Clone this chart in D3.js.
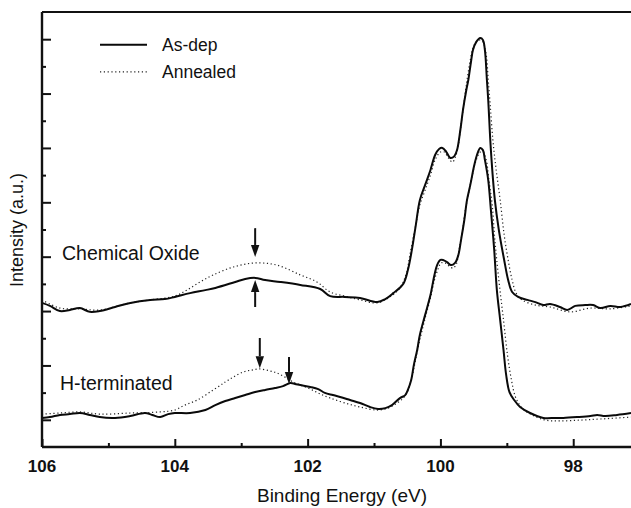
<!DOCTYPE html>
<html>
<head>
<meta charset="utf-8">
<script src="https://cdn.jsdelivr.net/npm/d3@7"></script>
<style>
  html, body { margin: 0; padding: 0; background: #fff; }
  svg { display: block; font-family: "Liberation Sans", Arial, Helvetica, sans-serif; }
</style>
</head>
<body>
<svg id="chart" width="631" height="508"></svg>
<script>
// ---- Data (binding energy eV, intensity a.u.) ----
const xMajorTicks = [106, 104, 102, 100, 98];
const xMinorTicks = [105, 103, 101, 99];
const yMajorTicks = [1, 3, 5, 7, 9, 11, 13, 15];
const yMinorTicks = [2, 4, 6, 8, 10, 12, 14];

const legendLabels = ["As-dep", "Annealed"];
const curveLabels = ["Chemical Oxide", "H-terminated"];

const oxideAsDep = [
  [106.00,5.30],[105.88,5.19],[105.73,5.00],[105.58,5.04],[105.43,5.11],[105.28,4.97],[105.13,5.00],
  [104.90,5.15],[104.67,5.30],[104.37,5.41],[104.15,5.44],[104.00,5.52],[103.77,5.66],[103.54,5.77],
  [103.39,5.85],[103.09,6.07],[102.94,6.18],[102.79,6.22],[102.64,6.14],[102.41,6.07],[102.11,5.96],
  [101.81,5.81],[101.66,5.55],[101.44,5.52],[101.21,5.48],[100.95,5.33],[100.83,5.44],[100.71,5.66],
  [100.56,6.00],[100.49,6.51],[100.43,7.25],[100.37,8.17],[100.31,9.08],[100.23,9.64],[100.15,10.19],
  [100.08,10.74],[100.02,10.96],[99.97,11.00],[99.91,10.85],[99.85,10.63],[99.79,10.70],[99.75,10.92],
  [99.70,11.66],[99.66,12.40],[99.61,13.13],[99.58,13.50],[99.54,14.16],[99.51,14.60],[99.46,14.90],
  [99.40,15.04],[99.36,14.97],[99.33,14.60],[99.30,13.50],[99.28,12.76],[99.24,10.92],[99.18,9.08],
  [99.12,7.98],[99.04,6.88],[98.98,6.14],[98.92,5.70],[98.83,5.52],[98.69,5.41],[98.57,5.33],
  [98.45,5.22],[98.35,5.26],[98.20,5.15],[98.09,5.04],[97.97,5.19],[97.82,5.22],[97.70,5.22],
  [97.59,5.11],[97.44,5.19],[97.29,5.15],[97.13,5.26]
];

const oxideAnnealed = [
  [106.00,5.41],[105.73,5.11],[105.43,5.08],[105.13,5.04],[104.67,5.30],[104.37,5.41],[104.00,5.55],
  [103.82,5.77],[103.62,6.07],[103.42,6.33],[103.12,6.62],[102.79,6.77],[102.46,6.69],[102.11,6.33],
  [101.86,6.07],[101.66,5.70],[101.44,5.55],[101.21,5.41],[100.95,5.30],[100.76,5.52],[100.61,5.85],
  [100.52,6.33],[100.46,7.06],[100.38,8.06],[100.31,8.90],[100.23,9.45],[100.15,10.00],[100.08,10.56],
  [100.00,10.85],[99.94,10.85],[99.88,10.63],[99.82,10.48],[99.78,10.63],[99.73,11.11],[99.69,11.84],
  [99.64,12.76],[99.60,13.50],[99.55,14.23],[99.51,14.68],[99.46,14.90],[99.40,14.97],[99.36,14.90],
  [99.31,14.42],[99.28,13.50],[99.25,12.58],[99.21,11.29],[99.16,10.19],[99.10,9.08],[99.04,7.80],
  [98.98,6.88],[98.92,6.14],[98.86,5.66],[98.77,5.41],[98.57,5.22],[98.35,5.15],[98.05,4.97],
  [97.74,5.11],[97.44,5.08],[97.13,5.19]
];

const hAsDep = [
  [106.00,1.07],[105.88,1.10],[105.73,1.18],[105.58,1.21],[105.43,1.25],[105.28,1.18],[105.13,1.10],
  [104.90,1.07],[104.67,1.14],[104.45,1.25],[104.34,1.18],[104.22,1.10],[104.10,1.21],[104.00,1.25],
  [103.77,1.25],[103.54,1.36],[103.39,1.54],[103.24,1.69],[103.09,1.80],[102.94,1.91],[102.79,2.02],
  [102.64,2.10],[102.49,2.17],[102.37,2.24],[102.26,2.35],[102.19,2.32],[102.11,2.28],[101.96,2.21],
  [101.84,2.13],[101.74,1.99],[101.62,1.91],[101.51,1.84],[101.36,1.73],[101.21,1.62],[101.06,1.47],
  [100.94,1.40],[100.83,1.43],[100.73,1.54],[100.61,1.80],[100.53,1.91],[100.49,2.10],[100.44,2.46],
  [100.40,3.02],[100.35,3.57],[100.31,4.12],[100.23,4.86],[100.15,5.59],[100.09,6.33],[100.05,6.69],
  [100.00,6.88],[99.96,6.88],[99.90,6.80],[99.84,6.69],[99.78,6.77],[99.73,7.06],[99.69,7.61],
  [99.64,8.35],[99.60,9.08],[99.55,9.64],[99.49,10.37],[99.45,10.74],[99.40,11.00],[99.36,10.92],
  [99.33,10.56],[99.28,9.82],[99.24,8.72],[99.19,7.25],[99.15,5.77],[99.10,4.67],[99.05,3.57],
  [99.01,2.65],[98.96,2.02],[98.89,1.73],[98.80,1.47],[98.65,1.25],[98.45,1.07],[98.27,1.07],
  [98.15,1.07],[97.94,1.10],[97.74,1.14],[97.64,1.18],[97.52,1.14],[97.34,1.18],[97.13,1.25]
];

const hAnnealed = [
  [106.00,1.21],[105.73,1.25],[105.43,1.29],[105.13,1.21],[104.67,1.25],[104.22,1.29],[104.00,1.36],
  [103.85,1.54],[103.66,1.73],[103.42,2.10],[103.24,2.39],[103.12,2.57],[102.97,2.76],[102.84,2.83],
  [102.72,2.87],[102.57,2.80],[102.46,2.72],[102.34,2.57],[102.22,2.39],[102.11,2.28],[101.96,2.13],
  [101.81,1.95],[101.66,1.80],[101.44,1.62],[101.21,1.47],[100.95,1.36],[100.79,1.43],[100.65,1.62],
  [100.56,1.80],[100.50,2.02],[100.46,2.28],[100.41,2.76],[100.37,3.27],[100.31,3.94],[100.23,4.74],
  [100.15,5.48],[100.09,6.14],[100.03,6.58],[99.99,6.77],[99.93,6.77],[99.87,6.66],[99.81,6.58],
  [99.76,6.73],[99.72,7.25],[99.67,7.91],[99.63,8.64],[99.58,9.27],[99.52,10.00],[99.46,10.56],
  [99.40,10.85],[99.36,10.85],[99.31,10.56],[99.27,9.82],[99.22,8.90],[99.18,7.61],[99.12,6.14],
  [99.05,4.67],[98.99,3.38],[98.93,2.46],[98.87,1.84],[98.77,1.43],[98.62,1.18],[98.42,0.99],
  [98.20,0.96],[97.89,0.99],[97.59,1.03],[97.13,1.10]
];

// arrows: energy, start intensity, tip intensity
const arrowX = [102.79, 102.79, 102.72, 102.28];
const arrowFrom = [8.05, 5.15, 4.01, 3.31];
const arrowTo = [6.99, 6.14, 2.90, 2.32];

// ---- Drawing ----
const svg = d3.select("#chart");
const mLeft = 42, mTop = 12, mRight = 631, mBottom = 447;
const x = d3.scaleLinear().domain([106, 97.13]).range([mLeft, mRight]);
const y = d3.scaleLinear().domain([0, 16]).range([mBottom, mTop]);

const line = d3.line().x(d => x(d[0])).y(d => y(d[1])).curve(d3.curveCatmullRom.alpha(0.5));

function drawSolid(data) {
  svg.append("path").datum(data).attr("d", line)
    .attr("fill", "none").attr("stroke", "#0a0a0a").attr("stroke-width", 2)
    .attr("stroke-linejoin", "round");
}
function drawDotted(data) {
  svg.append("path").datum(data).attr("d", line)
    .attr("fill", "none").attr("stroke", "#222").attr("stroke-width", 1.2)
    .attr("stroke-dasharray", "1.2,2.6");
}
drawDotted(oxideAnnealed);
drawDotted(hAnnealed);
drawSolid(oxideAsDep);
drawSolid(hAsDep);

// axes
const xMajor = d3.axisTop(x).tickValues(xMajorTicks).tickSize(8).tickFormat("");
const xMinor = d3.axisTop(x).tickValues(xMinorTicks).tickSize(4).tickFormat("");
const gx1 = svg.append("g").attr("transform", `translate(0,${mBottom})`).call(xMajor);
const gx2 = svg.append("g").attr("transform", `translate(0,${mBottom})`).call(xMinor);
const yMajor = d3.axisRight(y).tickValues(yMajorTicks).tickSize(9).tickFormat("");
const yMinor = d3.axisRight(y).tickValues(yMinorTicks).tickSize(4).tickFormat("");
const gy1 = svg.append("g").attr("transform", `translate(${mLeft},0)`).call(yMajor);
const gy2 = svg.append("g").attr("transform", `translate(${mLeft},0)`).call(yMinor);
[gx1, gx2, gy1, gy2].forEach(g => {
  g.select(".domain").remove();
  g.selectAll(".tick line").attr("stroke", "#111").attr("stroke-width", 2);
});
// frame lines
svg.append("line").attr("x1", mLeft).attr("x2", mRight).attr("y1", mBottom).attr("y2", mBottom)
  .attr("stroke", "#111").attr("stroke-width", 2.4);
svg.append("line").attr("x1", mLeft).attr("x2", mLeft).attr("y1", mTop).attr("y2", mBottom)
  .attr("stroke", "#111").attr("stroke-width", 2.4);
svg.append("line").attr("x1", mLeft).attr("x2", mRight).attr("y1", mTop).attr("y2", mTop)
  .attr("stroke", "#111").attr("stroke-width", 2.2);

// x tick labels
svg.append("g").selectAll("text").data(xMajorTicks).join("text")
  .attr("x", d => x(d)).attr("y", 472).attr("text-anchor", "middle")
  .attr("font-size", 17).attr("font-weight", "bold").attr("fill", "#111")
  .text(d => d);

// axis titles
svg.append("text").attr("x", 342).attr("y", 502).attr("text-anchor", "middle")
  .attr("font-size", 19).attr("fill", "#111").text("Binding Energy (eV)");
svg.append("text").attr("transform", "translate(23,230) rotate(-90)")
  .attr("text-anchor", "middle").attr("font-size", 18).attr("fill", "#111")
  .text("Intensity (a.u.)");

// legend
const legendY = [y(14.8), y(13.8)];
svg.append("line").attr("x1", 100).attr("x2", 147).attr("y1", legendY[0]).attr("y2", legendY[0])
  .attr("stroke", "#0a0a0a").attr("stroke-width", 2);
svg.append("line").attr("x1", 100).attr("x2", 147).attr("y1", legendY[1]).attr("y2", legendY[1])
  .attr("stroke", "#222").attr("stroke-width", 1.2).attr("stroke-dasharray", "1.2,2.6");
legendLabels.forEach((t, i) => {
  svg.append("text").attr("x", 162).attr("y", legendY[i] + 6)
    .attr("font-size", 17.5).attr("fill", "#111").text(t);
});

// curve labels
svg.append("text").attr("x", 62).attr("y", 260).attr("font-size", 19.5).attr("fill", "#111").text(curveLabels[0]);
svg.append("text").attr("x", 60).attr("y", 390).attr("font-size", 19.5).attr("fill", "#111").text(curveLabels[1]);

// arrows
arrowX.forEach((ev, i) => {
  const px = x(ev), y0 = y(arrowFrom[i]), y1 = y(arrowTo[i]);
  const dir = y1 > y0 ? 1 : -1;
  const headLen = 12, headW = 4.2;
  svg.append("line").attr("x1", px).attr("x2", px).attr("y1", y0).attr("y2", y1 - dir * headLen)
    .attr("stroke", "#111").attr("stroke-width", 2);
  svg.append("path")
    .attr("d", `M${px - headW},${y1 - dir * headLen} L${px + headW},${y1 - dir * headLen} L${px},${y1} Z`)
    .attr("fill", "#111");
});
</script>
</body>
</html>
